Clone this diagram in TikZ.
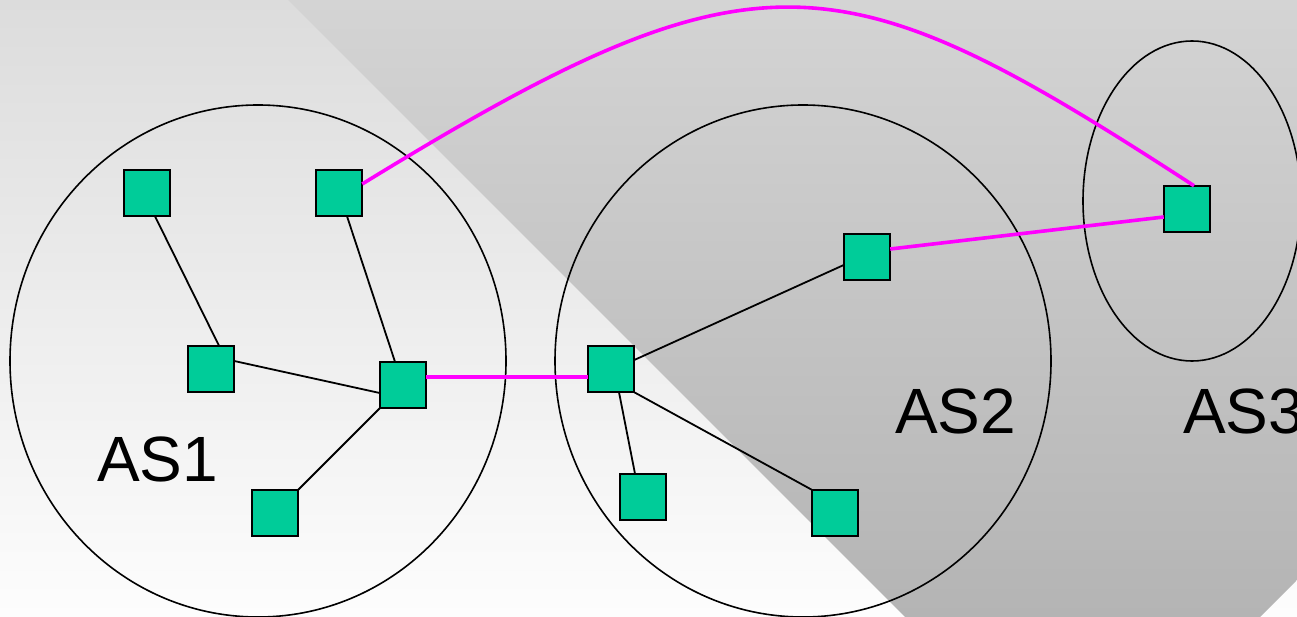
\documentclass[tikz,border=0pt]{standalone}
\usepackage{fontspec}
\setmainfont{Liberation Sans}
\usetikzlibrary{calc}
\definecolor{router}{RGB}{0,204,153}
\definecolor{bgtop}{RGB}{220,220,220}
\definecolor{bgbot}{RGB}{253,253,253}
\definecolor{dktop}{RGB}{212,212,212}
\definecolor{dkbot}{RGB}{180,180,180}
\definecolor{peer}{RGB}{255,0,255}
\tikzset{
  router/.style={draw=black, line width=1.7pt, fill=router, minimum size=46.5pt, inner sep=0pt, outer sep=0pt},
  intra/.style={draw=black, line width=1.8pt},
  inter/.style={draw=peer, line width=3.6pt},
  asline/.style={draw=black, line width=1.6pt},
  aslabel/.style={anchor=base west, inner sep=0pt, font=\fontsize{64}{70}\selectfont},
}
\begin{document}
\begin{tikzpicture}[x=1pt, y=-1pt]
  \useasboundingbox (0,0) rectangle (1297,617);
  \clip (0,0) rectangle (1297,617);
  % background
  \shade[top color=bgtop, bottom color=bgbot] (0,0) rectangle (1297,617);
  \shade[top color=dktop, bottom color=dkbot]
    (288,0) -- (1297,0) -- (1297,580) -- (1260,617) -- (905,617) -- cycle;

  % autonomous systems
  \draw[asline] (258,361) ellipse [x radius=248pt, y radius=256pt];
  \draw[asline] (803,361) ellipse [x radius=248pt, y radius=256pt];
  \draw[asline] (1192,201) ellipse [x radius=109pt, y radius=160pt];

  \node[aslabel] (l1) at (97,481) {AS1};
  \node[aslabel] (l2) at (895,433) {AS2};
  \node[aslabel] (l3) at (1183,433) {AS3};

  % routers
  \node[router] (A1) at (147,193) {};
  \node[router] (A2) at (339,193) {};
  \node[router] (A3) at (211,369) {};
  \node[router] (A4) at (403,385) {};
  \node[router] (A5) at (275,513) {};
  \node[router] (B1) at (611,369) {};
  \node[router] (B2) at (643,497) {};
  \node[router] (B3) at (835,513) {};
  \node[router] (B4) at (867,257) {};
  \node[router] (C1) at (1187,209) {};

  % links inside AS1
  \draw[intra] ($(A1.south)+(8,0)$) -- ($(A3.north)+(8,0)$);
  \draw[intra] ($(A2.south)+(8,0)$) -- ($(A4.north)+(-8,0)$);
  \draw[intra] ($(A3.east)+(0,-8)$) -- ($(A4.west)+(0,8)$);
  \draw[intra] (A4.south west) -- (A5.north east);

  % links inside AS2
  \draw[intra] ($(B1.east)+(0,-9)$) -- ($(B4.west)+(0,8)$);
  \draw[intra] ($(B1.south)+(8,0)$) -- ($(B2.north)+(-8,0)$);
  \draw[intra] (B1.south east) -- (B3.north west);

  % links between systems
  \draw[inter] ($(A4.east)+(0,-8)$) -- ($(B1.west)+(0,8)$);
  \draw[inter] ($(B4.east)+(0,-8)$) -- ($(C1.west)+(0,8)$);
  \draw[inter] ($(A2.east)+(0,-9)$) .. controls +(397,-244) and +(-354,-230) .. ($(C1.north)+(7,0)$);
\end{tikzpicture}
\end{document}
